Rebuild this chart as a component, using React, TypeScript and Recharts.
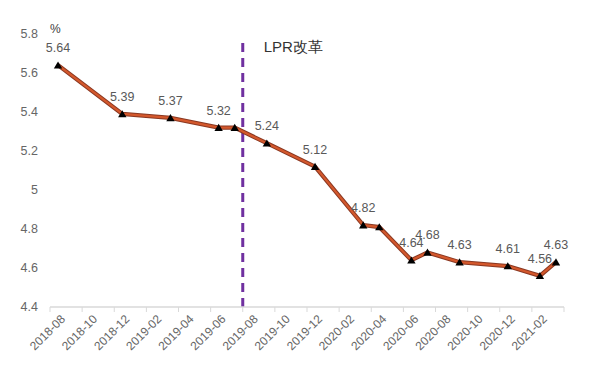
import React from "react";
import {
  LineChart,
  Line,
  XAxis,
  YAxis,
  ReferenceLine,
  LabelList,
} from "recharts";

// observation months and rates (%)
const months = [
  "2018-08", "2018-12", "2019-03", "2019-06", "2019-07", "2019-09", "2019-12",
  "2020-03", "2020-04", "2020-06", "2020-07", "2020-09", "2020-12", "2021-02", "2021-03",
];
const rates = [
  5.64, 5.39, 5.37, 5.32, 5.32, 5.24, 5.12,
  4.82, 4.81, 4.64, 4.68, 4.63, 4.61, 4.56, 4.63,
];
// points drawn without a value label
const unlabeled = ["2019-07", "2020-04"];

// axis category labels (every two months)
const axisMonths = [
  "2018-08", "2018-10", "2018-12", "2019-02", "2019-04", "2019-06", "2019-08", "2019-10",
  "2019-12", "2020-02", "2020-04", "2020-06", "2020-08", "2020-10", "2020-12", "2021-02",
];
const yTicks = [4.4, 4.6, 4.8, 5, 5.2, 5.4, 5.6, 5.8];
const reformMonth = "2019-08";
const reformLabel = "LPR改革";

const monthIndex = (m: string) => {
  const [y, mo] = m.split("-").map(Number);
  return (y - 2018) * 12 + (mo - 8);
};

const data = months.map((m, i) => ({ m: monthIndex(m), month: m, rate: rates[i] }));

// tick marks sit on the boundaries between two-month categories
const boundaries = [...axisMonths.map((m) => monthIndex(m) - 0.5), monthIndex("2021-04") - 0.5];

const W = 596;
const H = 371;
const margin = { top: 34, right: 32, left: 0, bottom: 4 };
const Y_W = 50;
const PLOT_W = W - margin.left - margin.right - Y_W;
const DOMAIN: [number, number] = [-0.5, 31.5];
const MONTH_PX = PLOT_W / (DOMAIN[1] - DOMAIN[0]);
const FONT = "Liberation Sans, Arial, sans-serif";

const MonthTick = (props: any) => {
  const { x, y, payload } = props;
  const label = axisMonths.find((m) => monthIndex(m) - 0.5 === payload.value);
  if (!label) return null;
  return (
    <g transform={`translate(${x + MONTH_PX - 3},${y + 3})`}>
      <text
        x={0}
        y={0}
        dy={4}
        textAnchor="end"
        transform="rotate(-45)"
        fill="#666"
        fontSize={12}
        fontFamily={FONT}
      >
        {label}
      </text>
    </g>
  );
};

const TriangleDot = (props: any) => {
  const { cx, cy, index } = props;
  if (cx == null || cy == null) return null;
  return (
    <polygon
      key={index}
      points={`${cx - 4.2},${cy + 3.3} ${cx + 4.2},${cy + 3.3} ${cx},${cy - 3.8}`}
      fill="#000"
    />
  );
};

const ValueLabel = (props: any) => {
  const { x, y, value, index } = props;
  if (unlabeled.includes(data[index].month)) return null;
  return (
    <text x={x} y={y - 13} textAnchor="middle" fill="#595959" fontSize={12.5} fontFamily={FONT}>
      {value}
    </text>
  );
};

export default function App() {
  const reformX = monthIndex(reformMonth) - 0.5;
  return (
    <div style={{ position: "fixed", left: 0, top: 0, width: W, height: H, background: "#fff" }}>
      <LineChart width={W} height={H} data={data} margin={margin}>
        <XAxis
          dataKey="m"
          type="number"
          domain={DOMAIN}
          ticks={boundaries}
          interval={0}
          tick={<MonthTick />}
          tickSize={5}
          height={60}
          stroke="#d9d9d9"
          tickLine={{ stroke: "#d9d9d9" }}
          axisLine={{ stroke: "#d9d9d9", strokeWidth: 1.5 }}
        />
        <YAxis
          type="number"
          domain={[4.4, 5.8]}
          ticks={yTicks}
          width={Y_W}
          axisLine={false}
          tickLine={false}
          tickMargin={6}
          tick={{ fill: "#666", fontSize: 12.5, fontFamily: FONT }}
          label={{
            content: (p: any) => (
              <text
                x={p.viewBox.x + p.viewBox.width}
                y={p.viewBox.y - 1}
                fill="#404040"
                fontSize={12}
                fontFamily={FONT}
              >
                %
              </text>
            ),
          }}
        />
        <ReferenceLine
          segment={[
            { x: reformX, y: 4.4 },
            { x: reformX, y: 5.76 },
          ]}
          stroke="#7030a0"
          strokeWidth={3}
          strokeDasharray="9 6"
          label={{
            content: (p: any) => (
              <text
                x={p.viewBox.x + 21}
                y={p.viewBox.y + 10}
                fill="#333"
                fontSize={15}
                fontFamily={FONT}
              >
                {reformLabel}
              </text>
            ),
          }}
        />
        <Line
          dataKey="rate"
          stroke="#8a3822"
          strokeWidth={4.2}
          dot={false}
          activeDot={false}
          isAnimationActive={false}
        />
        <Line
          dataKey="rate"
          stroke="#d4582c"
          strokeWidth={2.2}
          dot={<TriangleDot />}
          activeDot={false}
          isAnimationActive={false}
        >
          <LabelList dataKey="rate" content={<ValueLabel />} />
        </Line>
      </LineChart>
    </div>
  );
}
